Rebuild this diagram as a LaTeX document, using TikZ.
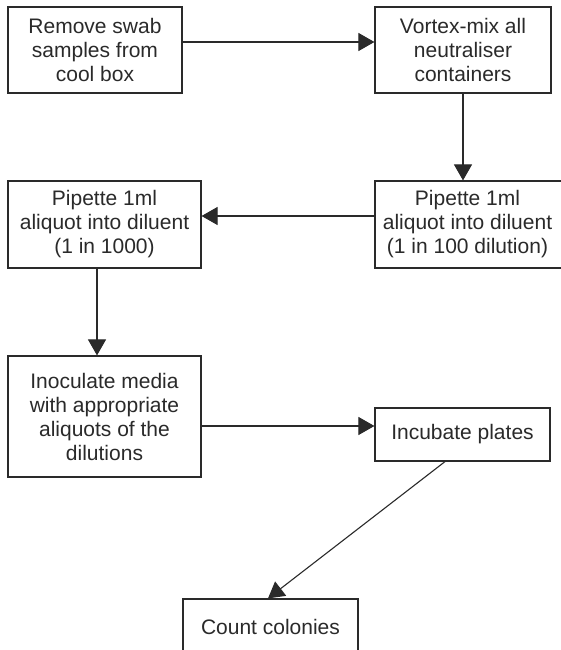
\documentclass[tikz,border=0pt]{standalone}
\usepackage{fontspec}
\setmainfont{Liberation Sans}
\usetikzlibrary{arrows.meta}
\definecolor{ink}{HTML}{2A2A2A}
\begin{document}
\begin{tikzpicture}[x=1pt,y=-1pt,
  stepbox/.style={draw=ink, line width=1.2pt, text=ink, inner sep=0pt,
    align=center, font=\fontsize{21}{24}\selectfont},
  flow/.style={draw=ink, line width=1.1pt,
    -{Triangle[length=16pt,width=18pt]}}]
\useasboundingbox (0,0) rectangle (561,650);
\clip (0,0) rectangle (561,650);
\fill[white] (0,0) rectangle (561,650);

\node[stepbox, minimum width=174pt, minimum height=86pt] (b1) at (95,50)
  {Remove swab\\samples from\\cool box};
\node[stepbox, minimum width=176pt, minimum height=86pt] (b2) at (463,50)
  {Vortex-mix all\\neutraliser\\containers};
\node[stepbox, minimum width=190pt, minimum height=87pt] (b4) at (470,224.5)
  {\hspace*{-5pt}Pipette 1ml\\\hspace*{-5pt}aliquot into diluent\\\hspace*{-5pt}(1 in 100 dilution)};
\node[stepbox, minimum width=193pt, minimum height=87pt] (b3) at (104.5,224.5)
  {Pipette 1ml\\aliquot into diluent\\(1 in 1000)};
\node[stepbox, minimum width=193pt, minimum height=121pt] (b5) at (104.5,416.5)
  {Inoculate media\\with appropriate\\aliquots of the\\dilutions};
\node[stepbox, minimum width=175pt, minimum height=53pt] (b6) at (462.5,434.5)
  {Incubate plates};
\node[stepbox, minimum width=175pt, minimum height=56pt] (b7) at (270.5,627)
  {Count colonies};

\draw[flow] ([yshift=8pt]b1.east) -- ([yshift=8pt]b2.west);
\draw[flow] (b2.south) -- (b2.south |- b4.north);
\draw[flow] ([yshift=8.5pt]b4.west) -- ([yshift=8.5pt]b3.east);
\coordinate (d3) at ([xshift=-7.5pt]b3.south);
\draw[flow] (d3) -- (d3 |- b5.north);
\coordinate (d5) at ([yshift=-9.5pt]b5.east);
\draw[flow] (d5) -- (d5 -| b6.west);
\draw[flow] ([xshift=-17.5pt]b6.south) -- ([xshift=-2.5pt]b7.north);
\end{tikzpicture}
\end{document}
